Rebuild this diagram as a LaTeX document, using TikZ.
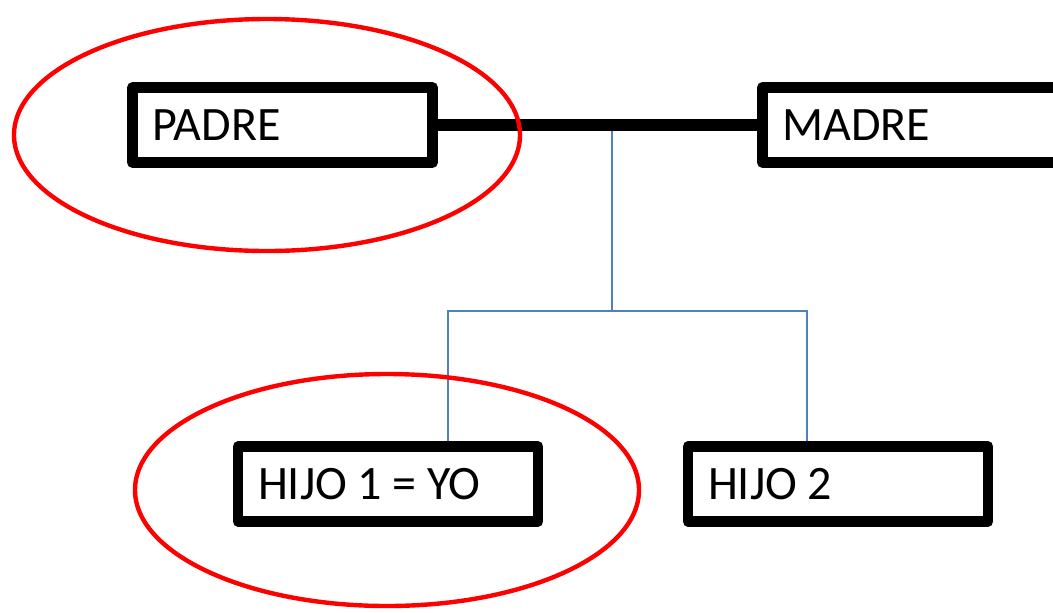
\documentclass[tikz,border=0pt]{standalone}
\usepackage{fontspec}
\setmainfont{Carlito}
\usetikzlibrary{positioning, calc, backgrounds}
\definecolor{azul}{RGB}{79,129,189}

\begin{document}
\begin{tikzpicture}[x=0.75pt,y=-0.75pt,on grid,
                   persona/.style={draw,rectangle,line width=8pt,line join=round,
                     minimum width=225pt,minimum height=56.25pt,inner xsep=15pt,
                     text width=195pt,align=left,text height=23pt,text depth=0pt,
                     font=\fontsize{36}{42}\selectfont,
                     execute at begin node={\spaceskip=0.22em\relax}},
                   union/.style={line width=9pt},
                   hijos/.style={draw=azul,line width=1.5pt},
                   marca/.style={draw=red,line width=3.3pt}]
\clip (0,0) rectangle (1053,612);
\node[persona]         (padre) at (282.5,125)          {PADRE};
\node[persona]         (madre) [right=472.5pt of padre] {MADRE};
\node[persona]         (hijo1) at (388,484)            {HIJO 1 = YO};
\node[persona]         (hijo2) [right=337.5pt of hijo1] {HIJO 2};

\draw[union] (padre) -- (madre);
\coordinate (pareja)  at ($(padre.east)!0.545!(madre.west)$);
\coordinate (reparto) at (pareja |- 0,311);

\begin{scope}[on background layer]
\draw[hijos] (pareja) -- (reparto);
\draw[hijos] ([xshift=45pt]hijo1.north) |- (reparto)
             -| ([xshift=-23.25pt]hijo2.north);
\end{scope}

%% circulos rojos
\draw[marca] (267,135) ellipse [x radius=253, y radius=116];
\draw[marca] (387,490) ellipse [x radius=252, y radius=116];
\end{tikzpicture}
\end{document}
